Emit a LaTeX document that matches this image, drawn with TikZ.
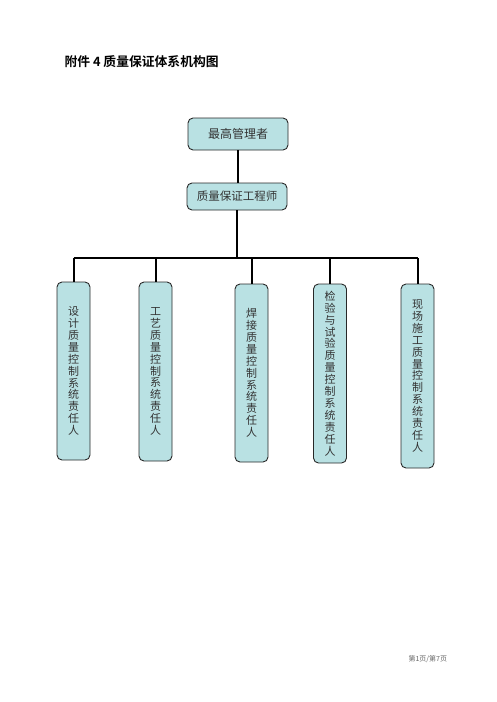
\documentclass[tikz,border=0pt]{standalone}
\usepackage{fontspec}
\newfontfamily\cjk{Noto Sans CJK SC}
\newfontfamily\cjkb{Noto Sans CJK SC Bold}
\definecolor{boxfill}{RGB}{185,225,227}
\definecolor{boxline}{RGB}{40,40,40}
\begin{document}
\begin{tikzpicture}[x=1pt,y=-1pt,
  topbox/.style={draw=boxline, line width=0.9pt, fill=boxfill, rounded corners=5pt, inner sep=0pt},
  vbox/.style={draw=boxline, line width=0.9pt, fill=boxfill, rounded corners=5pt, inner sep=0pt, align=center, minimum width=33pt, font=\cjk\fontsize{11}{11.9}\selectfont, text=black!80},
  conn/.style={line width=2pt, black}]
\useasboundingbox (0,0) rectangle (496,702);
\node[anchor=west, font=\cjkb\fontsize{12.8}{14}\selectfont] (title) at (61,62) {附件 4 质量保证体系机构图};
\node[topbox, minimum width=100pt, minimum height=32pt, font=\cjk\fontsize{12}{14}\selectfont, text=black!80] (top) at (238,134) {最高管理者};
\node[topbox, minimum width=100pt, minimum height=27pt, font=\cjk\fontsize{11.5}{14}\selectfont, text=black!80] (mid) at (237,196.5) {质量保证工程师};
\coordinate (bus) at (237,258);
\node[vbox, minimum height=178pt] (A) at (73.5,371) {设\\计\\质\\量\\控\\制\\系\\统\\责\\任\\人};
\node[vbox, minimum height=179pt] (B) at (155.5,371.5) {工\\艺\\质\\量\\控\\制\\系\\统\\责\\任\\人};
\node[vbox, minimum height=178pt] (C) at (251.5,373) {焊\\接\\质\\量\\控\\制\\系\\统\\责\\任\\人};
\node[vbox, minimum height=179pt] (D) at (330,373.5) {检\\验\\与\\试\\验\\质\\量\\控\\制\\系\\统\\责\\任\\人};
\node[vbox, minimum height=184pt] (E) at (417.5,376) {现\\场\\施\\工\\质\\量\\控\\制\\系\\统\\责\\任\\人};
\draw[conn] (top.south) -- (top.south |- mid.north);
\draw[conn] (mid.south) -- (bus);
\draw[conn] (A.north |- bus) -- (E.north |- bus);
\draw[conn] (A.north) -- (A.north |- bus);
\draw[conn] (B.north) -- (B.north |- bus);
\draw[conn] (C.north) -- (C.north |- bus);
\draw[line width=1.2pt] (D.north) -- (D.north |- bus);
\draw[conn] (E.north) -- (E.north |- bus);
\node[anchor=west, font=\cjk\fontsize{7}{8}\selectfont, text=black!60] (foot) at (405,659) {第1页/第7页};
\end{tikzpicture}
\end{document}
